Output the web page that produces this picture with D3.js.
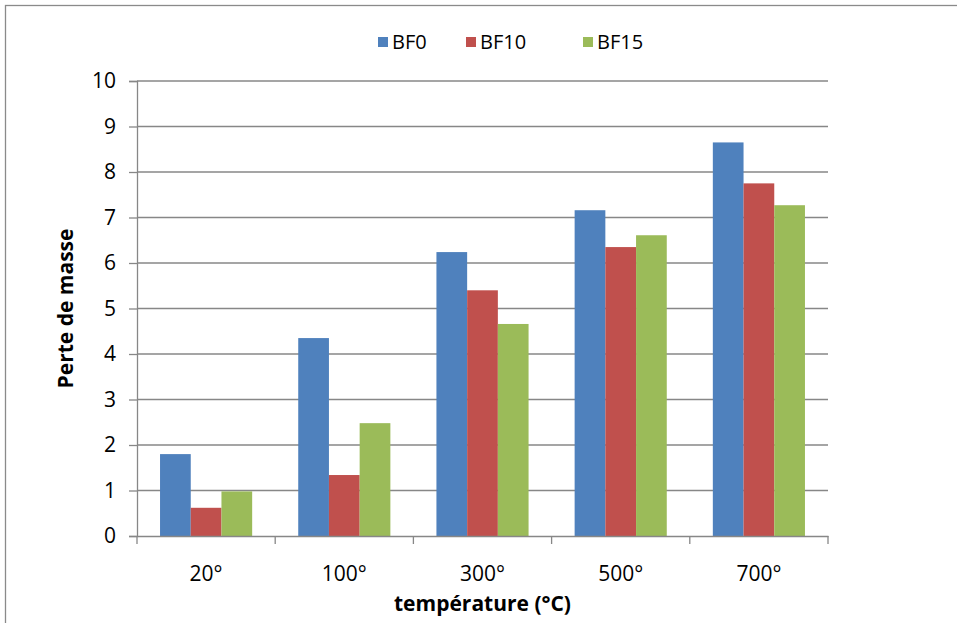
<!DOCTYPE html>
<html>
<head>
<meta charset="utf-8">
<script src="https://cdn.jsdelivr.net/npm/d3@7"></script>
<style>
  body { margin: 0; background: #fff; }
  text { font-family: "Open Sans", "Noto Sans", sans-serif; fill: #000; }
</style>
</head>
<body>
<div id="chart"></div>
<script>
  // data
  var categories = ["20°", "100°", "300°", "500°", "700°"];
  var seriesNames = ["BF0", "BF10", "BF15"];
  var seriesColors = ["#4F81BD", "#C0504D", "#9BBB59"];
  var bf0  = [1.80, 4.35, 6.24, 7.16, 8.65];
  var bf10 = [0.62, 1.34, 5.40, 6.35, 7.75];
  var bf15 = [0.98, 2.48, 4.66, 6.61, 7.27];
  var yTicks = [0, 1, 2, 3, 4, 5, 6, 7, 8, 9, 10];

  var W = 957, H = 623;
  var margin = {top: 81, right: 130, bottom: 87, left: 137};
  var width = 828 - margin.left,
      height = 536 - margin.top;

  var svg = d3.select("#chart")
    .append("svg")
      .attr("width", W)
      .attr("height", H);

  // outer chart border (only top and left visible)
  svg.append("rect")
    .attr("x", 5.5).attr("y", 5.5)
    .attr("width", W + 20).attr("height", H + 20)
    .attr("fill", "none")
    .attr("stroke", "#8a8a8a")
    .attr("stroke-width", 1.3);

  var g = svg.append("g")
    .attr("transform", "translate(" + margin.left + "," + margin.top + ")");

  var x0 = d3.scaleBand()
    .domain(categories)
    .range([0, width])
    .paddingInner(0)
    .paddingOuter(0);

  // gap width 150% -> 0.75 bar on each side
  var x1 = d3.scaleBand()
    .domain(seriesNames)
    .range([0, x0.bandwidth()])
    .paddingInner(0)
    .paddingOuter(0.75);

  var y = d3.scaleLinear()
    .domain([0, 10])
    .range([height, 0]);

  // gridlines
  g.append("g")
    .selectAll("line")
    .data(yTicks.filter(function (d) { return d > 0; }))
    .enter()
    .append("line")
      .attr("x1", 0)
      .attr("x2", width)
      .attr("y1", function (d) { return y(d); })
      .attr("y2", function (d) { return y(d); })
      .attr("stroke", "#878787")
      .attr("stroke-width", 1.3);

  // bars
  var table = categories.map(function (c, i) {
    return {cat: c, values: [bf0[i], bf10[i], bf15[i]]};
  });

  var groups = g.append("g")
    .selectAll("g")
    .data(table)
    .enter()
    .append("g")
      .attr("transform", function (d) { return "translate(" + x0(d.cat) + ",0)"; });

  groups.selectAll("rect")
    .data(function (d) {
      return d.values.map(function (v, k) { return {name: seriesNames[k], value: v, k: k}; });
    })
    .enter()
    .append("rect")
      .attr("x", function (d) { return x1(d.name); })
      .attr("width", x1.bandwidth())
      .attr("y", function (d) { return y(d.value); })
      .attr("height", function (d) { return height - y(d.value); })
      .attr("fill", function (d) { return seriesColors[d.k]; });

  // y axis
  var yAxis = g.append("g")
    .call(d3.axisLeft(y).tickValues(yTicks).tickSize(8).tickPadding(13).tickFormat(d3.format("d")));
  yAxis.select(".domain").attr("stroke", "#878787").attr("stroke-width", 1.3);
  yAxis.selectAll(".tick line").attr("stroke", "#878787").attr("stroke-width", 1.3);
  yAxis.selectAll(".tick text")
    .attr("font-size", 21)
    .attr("font-family", "'Open Sans', sans-serif")
    .attr("fill", "#000");

  // x axis
  var xAxis = g.append("g")
    .attr("transform", "translate(0," + height + ")")
    .call(d3.axisBottom(x0).tickSize(0));
  xAxis.select(".domain").attr("stroke", "#878787").attr("stroke-width", 1.3);
  xAxis.selectAll(".tick text")
    .attr("y", 45)
    .attr("dy", 0)
    .attr("font-size", 21)
    .attr("font-family", "'Open Sans', sans-serif")
    .attr("fill", "#000");

  // x tick marks between categories
  var edges = categories.map(function (c) { return x0(c); }).concat([width]);
  xAxis.append("g")
    .selectAll("line")
    .data(edges)
    .enter()
    .append("line")
      .attr("x1", function (d) { return d; })
      .attr("x2", function (d) { return d; })
      .attr("y1", 0)
      .attr("y2", 8)
      .attr("stroke", "#878787")
      .attr("stroke-width", 1.3);

  // axis titles
  svg.append("text")
    .attr("x", margin.left + width / 2)
    .attr("y", 611)
    .attr("text-anchor", "middle")
    .attr("font-size", 21)
    .attr("font-weight", "bold")
    .text("température (°C)");

  svg.append("text")
    .attr("transform", "translate(73," + (margin.top + height / 2) + ") rotate(-90)")
    .attr("text-anchor", "middle")
    .attr("font-size", 21)
    .attr("font-weight", "bold")
    .text("Perte de masse");

  // legend
  var legendX = [378, 466, 583];
  var legend = svg.append("g")
    .selectAll("g")
    .data(seriesNames)
    .enter()
    .append("g")
      .attr("transform", function (d, i) { return "translate(" + legendX[i] + ",37)"; });

  legend.append("rect")
    .attr("width", 10)
    .attr("height", 10)
    .attr("fill", function (d, i) { return seriesColors[i]; });

  legend.append("text")
    .attr("x", 14)
    .attr("y", 12)
    .attr("font-size", 20)
    .text(function (d) { return d; });
</script>
</body>
</html>
